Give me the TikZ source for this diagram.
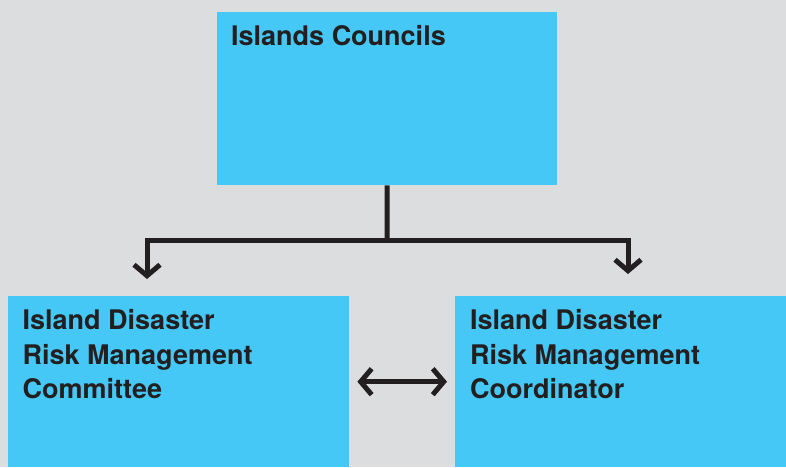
\documentclass[tikz,border=0pt]{standalone}
\usepackage{fontspec}
\setmainfont{TeX Gyre Heros}
\usetikzlibrary{arrows.meta}

\definecolor{boxblue}{HTML}{45C8F5}
\definecolor{panelgrey}{HTML}{DCDDDF}
\definecolor{inkblack}{HTML}{231F20}

\tikzset{
	box/.style = {fill = boxblue, anchor = north west, inner sep = 0pt},
	boxtext/.style = {anchor = base west, inner sep = 0pt, align = left, text = inkblack,
		font = \fontsize{27}{34.5}\selectfont\bfseries},
	link/.style = {line width = 5pt, draw = inkblack}
}

\begin{document}
\begin{tikzpicture}[x = 1pt, y = -1pt, > = {Straight Barb[length = 11pt, width = 26pt]}]

	% Background panel
	
	\fill [panelgrey] (0, 0) rectangle (786, 467);
	\useasboundingbox (0, 0) rectangle (786, 467);
	
	% Boxes
	
	\node [box, minimum width = 340pt, minimum height = 173pt] (councils) at (217, 12) {};
	\node [box, minimum width = 341pt, minimum height = 171pt] (committee) at (8, 296) {};
	\node [box, minimum width = 331pt, minimum height = 171pt] (coordinator) at (455, 296) {};
	
	% Labels (base anchor sits on the last line)
	
	\node [boxtext] (councilslabel) at ([shift = {(14, 33)}] councils.north west) {Islands Councils};
	\node [boxtext] (committeelabel) at ([shift = {(14.5, 102.5)}] committee.north west)
		{Island Disaster\\Risk Management\\Committee};
	\node [boxtext] (coordinatorlabel) at ([shift = {(15, 102.5)}] coordinator.north west)
		{Island Disaster\\Risk Management\\Coordinator};
	
	% Connectors
	
	\coordinate (split) at (387, 240);
	\coordinate (committeein) at (147, 279);
	\coordinate (coordinatorin) at (628, 274);
	
	\draw [link] (councils.south) -- (split);
	\draw [link, ->] (split) -| (committeein);
	\draw [link, ->] (split) -| (coordinatorin);
	
	\draw [link, <->] ([xshift = 8pt] committee.east) -- ([xshift = -8pt] coordinator.west);

\end{tikzpicture}
\end{document}
